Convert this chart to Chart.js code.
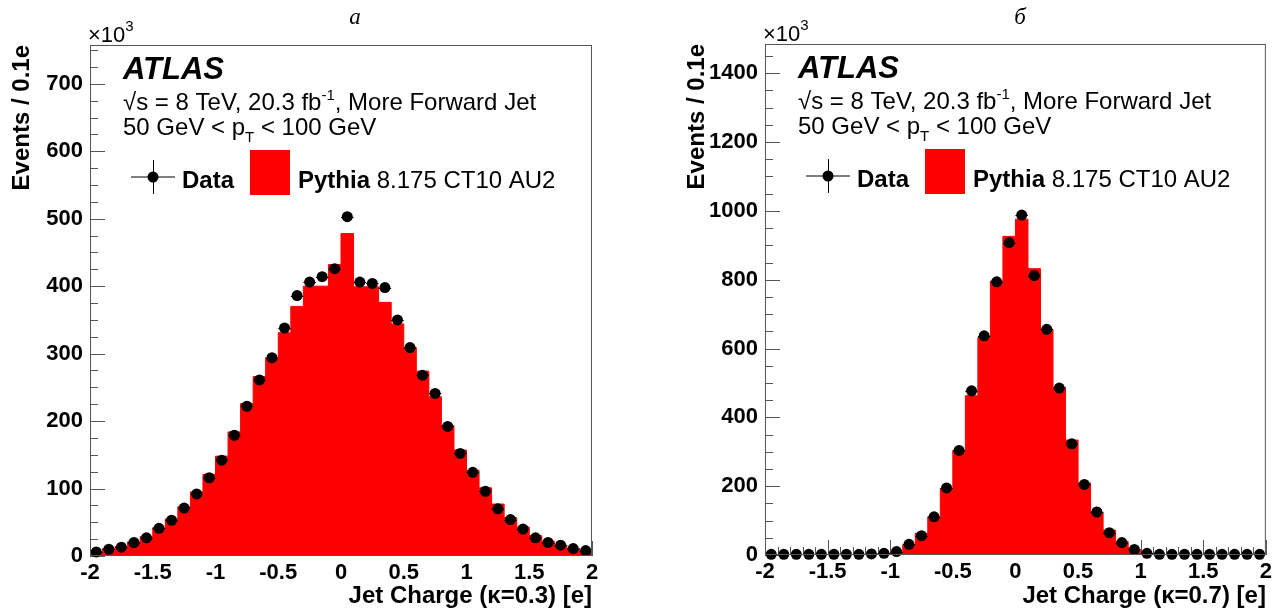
<!DOCTYPE html>
<html>
<head>
<meta charset="utf-8">
<script src="https://cdn.jsdelivr.net/npm/chart.js@4.4.1/dist/chart.umd.min.js"></script>
<style>
  html, body { margin: 0; padding: 0; background: #fff; }
  #wrap { position: relative; width: 1276px; height: 613px; }
  .panel { position: absolute; top: 0; height: 613px; }
  #panel-a { left: 0; width: 640px; }
  #panel-b { left: 640px; width: 636px; }
</style>
</head>
<body>
<div id="wrap">
  <div class="panel" id="panel-a"><canvas id="chart-k03"></canvas></div>
  <div class="panel" id="panel-b"><canvas id="chart-k07"></canvas></div>
</div>
<script>
// bin centres of the jet charge histograms (bin width 0.1 e)
const binCenters = [
  -1.95, -1.85, -1.75, -1.65, -1.55, -1.45, -1.35, -1.25, -1.15, -1.05,
  -0.95, -0.85, -0.75, -0.65, -0.55, -0.45, -0.35, -0.25, -0.15, -0.05,
   0.05,  0.15,  0.25,  0.35,  0.45,  0.55,  0.65,  0.75,  0.85,  0.95,
   1.05,  1.15,  1.25,  1.35,  1.45,  1.55,  1.65,  1.75,  1.85,  1.95
];
const binHalfWidth = 0.05;

// kappa = 0.3, events x10^3
const dataK03 = [
  6, 10, 13, 20, 27, 41, 53, 71, 92, 116,
  142, 179, 222, 261, 294, 338, 386, 406, 414, 426,
  503, 406, 404, 398, 350, 309, 268, 241, 192, 152,
  124, 96, 70, 54, 40, 27, 20, 16, 11, 8
];
const mcK03 = [
  7, 11, 14, 21, 29, 42, 55, 73, 95, 121,
  148, 184, 226, 266, 294, 331, 370, 400, 400, 432,
  478, 399, 399, 376, 344, 309, 274, 236, 193, 157,
  127, 101, 77, 57, 43, 30, 22, 16, 11, 8
];

// kappa = 0.7, events x10^3
const dataK07 = [
  2, 2, 2, 2, 2, 2, 2, 2, 3, 5,
  10, 31, 56, 111, 195, 304, 477, 637, 794, 908,
  988, 812, 656, 485, 323, 205, 125, 65, 36, 16,
  5, 2, 2, 2, 2, 2, 2, 2, 2, 2
];
const mcK07 = [
  1, 1, 1, 1, 1, 1, 1, 1, 2, 3,
  7, 29, 63, 111, 193, 304, 463, 632, 796, 926,
  976, 832, 656, 487, 334, 209, 125, 72, 39, 14,
  3, 1, 1, 1, 1, 1, 1, 1, 1, 1
];

const xTicks = [-2, -1.5, -1, -0.5, 0, 0.5, 1, 1.5, 2];
const yTicksK03 = [0, 100, 200, 300, 400, 500, 600, 700];
const yTicksK07 = [0, 200, 400, 600, 800, 1000, 1200, 1400];

const SANS = "'Liberation Sans', Arial, Helvetica, sans-serif";

function drawParts(ctx, x, y, parts) {
  parts.forEach(p => {
    ctx.font = p.font;
    ctx.fillText(p.text, x, y + (p.dy || 0));
    x += ctx.measureText(p.text).width;
  });
}

// ROOT-like frame, inner ticks, data error bars and the ATLAS labels
const rootStyle = {
  id: 'rootStyle',
  beforeDatasetsDraw(chart, args, opts) {
    const { ctx, chartArea: a, scales: { x, y } } = chart;
    ctx.save();
    ctx.strokeStyle = '#555';
    ctx.lineWidth = 1;
    ctx.beginPath();
    for (let v = -2; v <= 2.0001; v += 0.1) {
      const px = Math.round(x.getPixelForValue(v)) + 0.5;
      const major = Math.abs(v * 2 - Math.round(v * 2)) < 1e-6;
      ctx.moveTo(px, a.bottom);
      ctx.lineTo(px, a.bottom - (major ? 15 : 8));
    }
    for (let v = 0; v <= y.max; v += opts.yMinor) {
      const py = Math.round(y.getPixelForValue(v)) + 0.5;
      const major = v % opts.yMajor === 0;
      ctx.moveTo(a.left, py);
      ctx.lineTo(a.left + (major ? 15 : 8), py);
    }
    ctx.stroke();
    ctx.restore();
  },
  afterDatasetsDraw(chart, args, opts) {
    const { ctx, chartArea: a, scales: { x, y } } = chart;
    ctx.save();
    // horizontal bin-width error bars of the data points
    ctx.strokeStyle = '#000';
    ctx.lineWidth = 1;
    ctx.beginPath();
    chart.data.datasets[0].data.forEach(p => {
      const py = Math.round(y.getPixelForValue(p.y)) + 0.5;
      ctx.moveTo(x.getPixelForValue(p.x - binHalfWidth), py);
      ctx.lineTo(x.getPixelForValue(p.x + binHalfWidth), py);
    });
    ctx.stroke();
    // frame
    ctx.strokeStyle = '#555';
    ctx.strokeRect(a.left + 0.5, a.top + 0.5, a.width - 1, a.height - 1);

    const L = a.left, T = a.top;
    ctx.fillStyle = '#000';
    ctx.textBaseline = 'alphabetic';
    ctx.textAlign = 'left';

    // x10^3 above the axis
    drawParts(ctx, L - 2, T - 3, [
      { text: '\u00d710', font: '22px ' + SANS },
      { text: '3', font: '15px ' + SANS, dy: -11 }
    ]);
    // panel letter
    ctx.font = 'italic 23px "Liberation Serif", "DejaVu Serif", serif';
    ctx.textAlign = 'center';
    ctx.fillText(opts.letter, opts.letterX, 24);
    ctx.textAlign = 'left';

    ctx.font = 'italic bold 31px ' + SANS;
    ctx.fillText('ATLAS', L + 33, T + 34);
    drawParts(ctx, L + 33, T + 65, [
      { text: '\u221as = 8 TeV, 20.3 fb', font: '24px ' + SANS },
      { text: '-1', font: '15px ' + SANS, dy: -10 },
      { text: ', More Forward Jet', font: '24px ' + SANS }
    ]);
    drawParts(ctx, L + 33, T + 90, [
      { text: '50 GeV < p', font: '24px ' + SANS },
      { text: 'T', font: '15px ' + SANS, dy: 7 },
      { text: ' < 100 GeV', font: '24px ' + SANS }
    ]);

    // legend
    const mx = L + 63, my = T + 132;
    ctx.strokeStyle = '#000';
    ctx.beginPath();
    ctx.moveTo(mx - 22, my); ctx.lineTo(mx + 22, my);
    ctx.moveTo(mx + 0.5, my - 17); ctx.lineTo(mx + 0.5, my + 17);
    ctx.stroke();
    ctx.beginPath();
    ctx.arc(mx, my, 5.5, 0, Math.PI * 2);
    ctx.fill();
    drawParts(ctx, L + 92, T + 143, [{ text: 'Data', font: 'bold 24px ' + SANS }]);
    ctx.fillStyle = '#ff0000';
    ctx.fillRect(L + 160, T + 105, 40, 45);
    ctx.fillStyle = '#000';
    drawParts(ctx, L + 208, T + 143, [
      { text: 'Pythia', font: 'bold 24px ' + SANS },
      { text: ' 8.175 CT10 AU2', font: '24px ' + SANS }
    ]);
    ctx.restore();
  }
};

function makeChart(canvasId, data, mc, yMax, yTicks, yMinor, yMajor, kappa, letter, letterX, layout) {
  const points = binCenters.map((c, i) => ({ x: c, y: data[i] }));
  // step outline: left edge of every bin, closing point at the upper edge
  const steps = binCenters.map((c, i) => ({ x: c - binHalfWidth, y: mc[i] }));
  steps.push({ x: binCenters[binCenters.length - 1] + binHalfWidth, y: mc[mc.length - 1] });

  return new Chart(document.getElementById(canvasId), {
    type: 'line',
    data: {
      datasets: [
        {
          type: 'scatter',
          label: 'Data',
          data: points,
          pointRadius: 5.5,
          pointHoverRadius: 5.5,
          pointBackgroundColor: '#000',
          pointBorderWidth: 0,
          clip: false
        },
        {
          label: 'Pythia 8.175 CT10 AU2',
          data: steps,
          stepped: 'before',
          fill: 'origin',
          backgroundColor: '#ff0000',
          borderColor: '#ff0000',
          borderWidth: 1,
          pointRadius: 0
        }
      ]
    },
    options: {
      responsive: true,
      maintainAspectRatio: false,
      animation: false,
      events: [],
      layout: { padding: { left: 0, top: layout.top, right: layout.right, bottom: 0 } },
      plugins: {
        legend: { display: false },
        tooltip: { enabled: false },
        rootStyle: { yMinor: yMinor, yMajor: yMajor, letter: letter, letterX: letterX }
      },
      scales: {
        x: {
          type: 'linear',
          min: -2,
          max: 2,
          afterBuildTicks: s => { s.ticks = xTicks.map(v => ({ value: v })); },
          afterFit: s => { s.height = layout.xHeight; },
          grid: { display: false, drawTicks: false },
          border: { display: false },
          ticks: {
            color: '#000',
            padding: 4,
            maxRotation: 0,
            autoSkip: false,
            font: { family: SANS, size: 22, weight: 'bold' },
            callback: v => String(v)
          },
          title: {
            display: true,
            text: 'Jet Charge (\u03ba=' + kappa + ') [e]',
            align: 'end',
            color: '#000',
            font: { family: SANS, size: 24, weight: 'bold', lineHeight: 1 },
            padding: { top: 0, bottom: 5 }
          }
        },
        y: {
          min: 0,
          max: yMax,
          afterBuildTicks: s => { s.ticks = yTicks.map(v => ({ value: v })); },
          afterFit: s => { s.width = layout.yWidth; },
          grid: { display: false, drawTicks: false },
          border: { display: false },
          ticks: {
            color: '#000',
            padding: 7,
            autoSkip: false,
            font: { family: SANS, size: 22, weight: 'bold' },
            callback: v => String(v)
          },
          title: {
            display: true,
            text: 'Events / 0.1e',
            align: 'end',
            color: '#000',
            font: { family: SANS, size: 24, weight: 'bold', lineHeight: 1 },
            padding: { top: layout.yTitlePad, bottom: 0 }
          }
        }
      }
    },
    plugins: [rootStyle]
  });
}

makeChart('chart-k03', dataK03, mcK03, 757.5, yTicksK03, 25, 100, '0.3', '\u0430', 355,
  { top: 45, right: 48, xHeight: 57, yWidth: 90, yTitlePad: 10 });
makeChart('chart-k07', dataK07, mcK07, 1485, yTicksK07, 50, 200, '0.7', '\u0431', 380,
  { top: 44, right: 9, xHeight: 58, yWidth: 125, yTitlePad: 45 });
</script>
</body>
</html>
